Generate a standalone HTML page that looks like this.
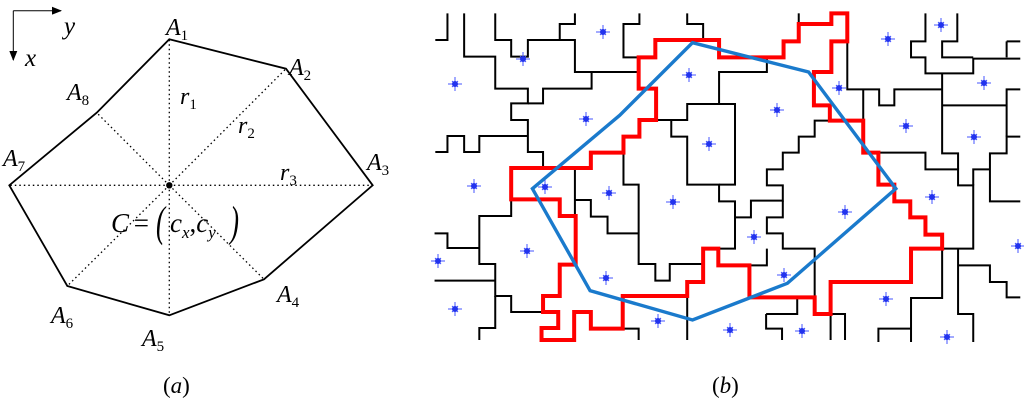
<!DOCTYPE html>
<html><head><meta charset="utf-8"><style>
html,body{margin:0;padding:0;background:#fff;}
svg{display:block;}
text{font-family:"Liberation Serif","DejaVu Serif",serif;font-style:italic;fill:#000;}
.k{fill:none;stroke:#000;stroke-width:2;vector-effect:non-scaling-stroke;}
</style></head><body>
<svg width="1024" height="417" viewBox="0 0 1024 417" xmlns="http://www.w3.org/2000/svg" font-family="Liberation Serif, serif">
<defs>
<marker id="ar" markerWidth="10" markerHeight="8" refX="9" refY="4" orient="auto" markerUnits="userSpaceOnUse"><path d="M0,0 L10,4 L0,8 Z" fill="#000"/></marker>
<g id="st"><path d="M-7,0 H7 M0,-7 V7 M-3,-3 L3,3 M-3,3 L3,-3" stroke="#4455ff" stroke-width="1" vector-effect="non-scaling-stroke"/><circle r="3" fill="#2233ee"/></g>
</defs>
<path d="M13.3,10.7 H61" stroke="#000" stroke-width="1" fill="none" marker-end="url(#ar)"/>
<path d="M13.3,10.7 V60" stroke="#000" stroke-width="1" fill="none" marker-end="url(#ar)"/>
<text x="64" y="34" font-size="25">y</text>
<text x="25" y="66" font-size="25">x</text>
<g stroke="#000" stroke-width="1.3" stroke-dasharray="1.5,3" fill="none">
<path d="M169.3,185.3 L169.3,39.3 M169.3,185.3 L286,68.7 M169.3,185.3 L372.7,185.3 M169.3,185.3 L264,279.3 M169.3,185.3 L169.3,315.3 M169.3,185.3 L67.3,286 M169.3,185.3 L9.3,185.3 M169.3,185.3 L96.7,112.7"/>
</g>
<polygon points="169.3,39.3 286,68.7 372.7,185.3 264,279.3 169.3,315.3 67.3,286 9.3,185.3 96.7,112.7" fill="none" stroke="#000" stroke-width="1.8"/>
<circle cx="169.3" cy="185.3" r="3.2" fill="#000"/>
<g font-size="24">
<text x="166" y="35">A<tspan font-size="15" font-style="normal" dy="5">1</tspan></text>
<text x="289" y="75">A<tspan font-size="15" font-style="normal" dy="5">2</tspan></text>
<text x="367" y="170">A<tspan font-size="15" font-style="normal" dy="5">3</tspan></text>
<text x="277" y="302">A<tspan font-size="15" font-style="normal" dy="5">4</tspan></text>
<text x="142" y="346">A<tspan font-size="15" font-style="normal" dy="5">5</tspan></text>
<text x="51" y="323">A<tspan font-size="15" font-style="normal" dy="5">6</tspan></text>
<text x="3" y="166">A<tspan font-size="15" font-style="normal" dy="5">7</tspan></text>
<text x="67" y="100">A<tspan font-size="15" font-style="normal" dy="5">8</tspan></text>
<text x="180" y="104">r<tspan font-size="15" font-style="normal" dy="5">1</tspan></text>
<text x="238" y="133">r<tspan font-size="15" font-style="normal" dy="5">2</tspan></text>
<text x="280" y="180">r<tspan font-size="15" font-style="normal" dy="5">3</tspan></text>
</g>
<text x="111" y="232" font-size="27">C</text>
<text x="132" y="232" font-size="27" font-style="normal">=</text>
<text x="156" y="236" font-size="30" font-style="normal" transform="translate(156,236) scale(0.9,1.45) translate(-156,-236)">(</text>
<text x="170" y="232" font-size="27">c<tspan font-size="17" dy="6">x</tspan><tspan dy="-6" font-style="normal">,</tspan>c<tspan font-size="17" dy="6">y</tspan></text>
<text x="230" y="236" font-size="30" font-style="normal" transform="translate(230,236) scale(0.9,1.45) translate(-230,-236)">)</text>
<text x="163" y="393" font-size="23"><tspan font-style="normal">(</tspan>a<tspan font-style="normal">)</tspan></text>
<text x="712" y="393" font-size="23"><tspan font-style="normal">(</tspan>b<tspan font-style="normal">)</tspan></text>

<g transform="translate(430,0) scale(0.37936,0.33333)">
<g class="k">
<path class="k" d="M14,120 H46 V40"/>
<path class="k" d="M90,40 V170 H172 V266 H258 V310 H214 V360 H258 V456 H298 V504"/>
<path class="k" d="M172,40 V120 H214 V170 H258 V120 H342 V72 H382 V40"/>
<path class="k" d="M342,120 H382 V216 H550"/>
<path class="k" d="M426,216 V266 H298 V310 H258"/>
<path class="k" d="M14,456 H46 V408 H90 V456 H130 V408 H258"/>
<path class="k" d="M552,40 V72 H510 V172 H550"/>
<path class="k" d="M678,40 V72 H720 V120"/>
<path class="k" d="M972,40 V72"/>
<path class="k" d="M888,172 V216 H762 V312 H678 V360 H636 V410 H678 V554 H762 V604 H804 V746 H720"/>
<path class="k" d="M596,360 H636 M678,312 H804 V554 H762"/>
<path class="k" d="M510,458 V554 H550 V792 H594 V842 H632 V792 H720"/>
<path class="k" d="M550,700 H468 V650 H424 V600 H384 M382,504 V648"/>
<path class="k" d="M1100,124 V268 H1142 V362 M1142,268 H1184 V316 H1224 V268 H1350"/>
<path class="k" d="M1054,362 H1014 V410 H972 V458 H930 V508 H888 V556 H930 V602 H846 V652 H804"/>
<path class="k" d="M930,602 V652 H888 V700 H930 V746 H1014 V942 M888,746 V796 H842"/>
<path class="k" d="M1182,458 H1306 V508 H1392 V556 H1432 V746 H1350"/>
<path class="k" d="M1432,556 V508 H1476 V460 H1520 V410 H1556 M1476,508 V604 H1556"/>
<path class="k" d="M1350,220 V460 H1392 V508 M1350,316 H1520 V410 M1520,316 V268 H1556"/>
<path class="k" d="M1306,40 V124 H1268 V172 H1306 V220 H1432 V176 H1556 M1390,40 V124 H1350 V172 H1432 M1520,124 H1556 M1520,124 V172"/>
<path class="k" d="M1392,746 V796 H1476 V846 H1520 V892 H1556 M1392,796 V942 H1432 V1026"/>
<path class="k" d="M1350,746 V894 H1268 V1026 M1268,986 H1182 V1026"/>
<path class="k" d="M12,700 H46 V744 H130 V648 H214 V598 M130,744 V792 H172 V888 H214 V936 H298"/>
<path class="k" d="M12,842 H172 M172,888 V984 H130 V1020"/>
<path class="k" d="M508,986 H550 V1020 M678,888 V1020 M886,942 H968 V892 M886,942 V986 H928 V1020"/>
<path class="k" d="M1056,942 H1094 V1020 M1056,942 V1020"/>
</g>
<path d="M594,120 H762 V172 H932 V124 H972 V72 H1058 V40 H1100 V124 H1058 V216 H1012 V316 H1054 V362 H1142 V458 H1182 V554 H1224 V604 H1266 V652 H1306 V704 H1350 V746 H1268 V846 H1056 V942 H1014 V892 H842 V796 H760 V746 H720 V846 H678 V888 H508 V986 H424 V936 H380 V1020 H294 V984 H338 V936 H298 V888 H342 V794 H384 V648 H342 V598 H214 V504 H424 V458 H510 V410 H552 V360 H596 V266 H550 V172 H594 Z" fill="none" stroke="#ff0000" stroke-width="4" vector-effect="non-scaling-stroke"/>
<polygon points="692,128 998,216 1228,566 942,850 692,960 422,872 270,566 500,346" fill="none" stroke="#1a7acc" stroke-width="3.4" vector-effect="non-scaling-stroke"/>
</g>
<g id="stars"></g>
<g>
<use href="#st" x="603" y="32"/><use href="#st" x="523" y="59"/><use href="#st" x="455" y="84"/><use href="#st" x="689" y="75"/><use href="#st" x="586" y="119"/><use href="#st" x="777" y="110"/><use href="#st" x="839" y="88"/><use href="#st" x="888" y="39"/><use href="#st" x="941" y="25"/><use href="#st" x="984" y="83"/><use href="#st" x="906" y="126"/><use href="#st" x="974" y="137"/><use href="#st" x="709" y="144"/><use href="#st" x="474" y="186"/><use href="#st" x="545" y="187"/><use href="#st" x="609" y="193"/><use href="#st" x="673" y="202"/><use href="#st" x="932" y="197"/><use href="#st" x="845" y="212"/><use href="#st" x="754" y="237"/><use href="#st" x="527" y="251"/><use href="#st" x="438" y="261"/><use href="#st" x="1018" y="246"/><use href="#st" x="606" y="278"/><use href="#st" x="784" y="275"/><use href="#st" x="886" y="299"/><use href="#st" x="455" y="309"/><use href="#st" x="658" y="321"/><use href="#st" x="730" y="330"/><use href="#st" x="802" y="331"/><use href="#st" x="947" y="337"/>
</g>
</svg>
</body></html>
